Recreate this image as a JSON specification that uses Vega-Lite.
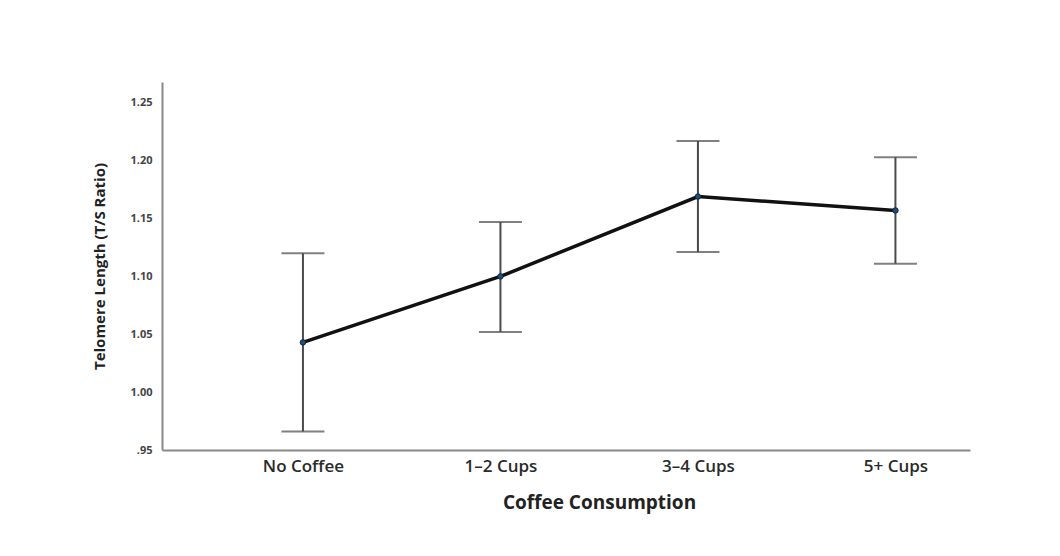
{
  "$schema": "https://vega.github.io/schema/vega-lite/v6.json",
  "description": "Telomere length by coffee consumption, means with error bars.",
  "autosize": {"type": "none"},
  "padding": {"left": 162, "top": 82, "right": 90, "bottom": 106},
  "width": 808,
  "height": 368,
  "background": "white",
  "data": {
    "values": [
      {"group": "No Coffee", "mean": 1.043, "lower": 0.966, "upper": 1.120},
      {"group": "1-2 Cups", "mean": 1.100, "lower": 1.052, "upper": 1.147},
      {"group": "3-4 Cups", "mean": 1.169, "lower": 1.121, "upper": 1.217},
      {"group": "5+ Cups", "mean": 1.157, "lower": 1.111, "upper": 1.203}
    ]
  },
  "encoding": {
    "x": {
      "field": "group",
      "type": "ordinal",
      "sort": null,
      "scale": {"type": "point", "padding": 0.5456, "align": 0.654},
      "axis": {
        "title": "Coffee Consumption",
        "titleFont": "Open Sans",
        "titleFontSize": 19,
        "titleFontWeight": "bold",
        "titleColor": "#222222",
        "titlePadding": 19,
        "titleX": 437,
        "labelFont": "Open Sans",
        "labelFontSize": 17,
        "labelFontWeight": 600,
        "labelColor": "#2a2a2a",
        "labelAngle": 0,
        "labelPadding": 8,
        "labelExpr": "replace(datum.label, '-', '–')",
        "ticks": false,
        "domainColor": "#8a8a8a",
        "domainWidth": 2,
        "grid": false
      }
    }
  },
  "layer": [
    {
      "mark": {"type": "rule", "color": "#4a4a4a", "strokeWidth": 2},
      "encoding": {
        "y": {
          "field": "lower",
          "type": "quantitative",
          "scale": {"domain": [0.95, 1.268], "nice": false, "zero": false},
          "axis": {
            "title": "Telomere Length (T/S Ratio)",
            "titleFont": "Open Sans",
            "titleFontSize": 15,
            "titleFontWeight": "bold",
            "titleColor": "#222222",
            "titlePadding": 22,
            "values": [0.95, 1.0, 1.05, 1.1, 1.15, 1.2, 1.25],
            "labelExpr": "replace(format(datum.value, '.2f'), /^0/, '')",
            "labelFont": "Open Sans",
            "labelFontSize": 11,
            "labelFontWeight": "bold",
            "labelColor": "#444444",
            "labelPadding": 10,
            "ticks": false,
            "domainColor": "#8a8a8a",
            "domainWidth": 2,
            "grid": false
          }
        },
        "y2": {"field": "upper"}
      }
    },
    {
      "mark": {"type": "tick", "color": "#4a4a4a", "thickness": 2, "size": 43, "orient": "horizontal"},
      "encoding": {"y": {"field": "lower", "type": "quantitative"}}
    },
    {
      "mark": {"type": "tick", "color": "#4a4a4a", "thickness": 2, "size": 43, "orient": "horizontal"},
      "encoding": {"y": {"field": "upper", "type": "quantitative"}}
    },
    {
      "mark": {"type": "line", "color": "#111111", "strokeWidth": 3.5},
      "encoding": {"y": {"field": "mean", "type": "quantitative"}}
    },
    {
      "mark": {"type": "point", "filled": true, "color": "#1f4e79", "stroke": "#10263d", "strokeWidth": 1, "size": 30, "opacity": 1},
      "encoding": {"y": {"field": "mean", "type": "quantitative"}}
    }
  ],
  "config": {"view": {"stroke": null}}
}
